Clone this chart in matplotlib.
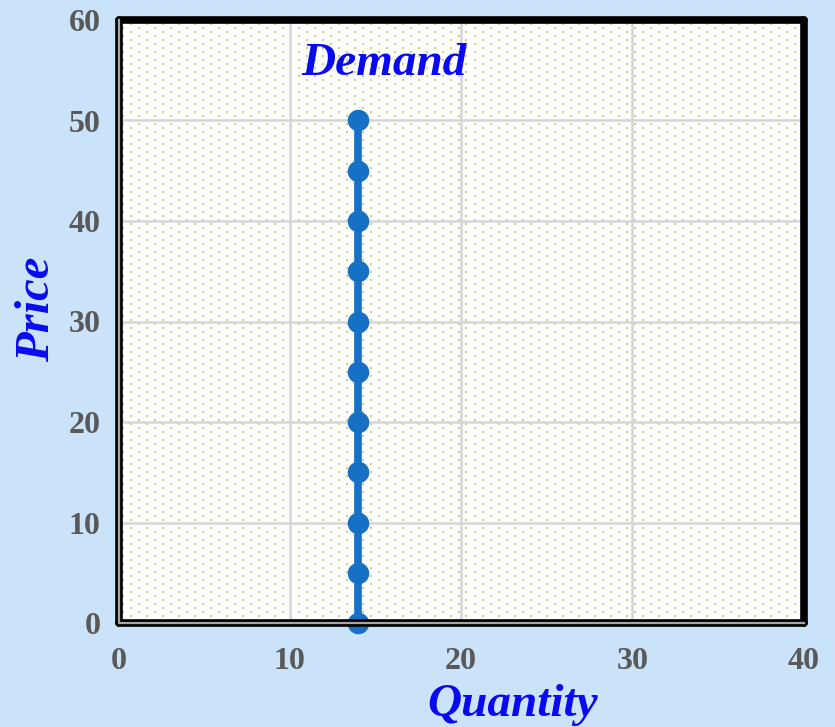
import numpy as np
import matplotlib.pyplot as plt

# demand schedule: fixed quantity at every price
prices = [0, 5, 10, 15, 20, 25, 30, 35, 40, 45, 50]
quantity = [14] * len(prices)

x_ticks = [0, 10, 20, 30, 40]
y_ticks = [0, 10, 20, 30, 40, 50, 60]

bg = '#cbe3f9'
blue_line = '#1670c4'
label_blue = '#0a0af0'
tick_gray = '#595959'
serif = 'Liberation Serif'

W, H = 835, 727
fig = plt.figure(figsize=(W / 100, H / 100), dpi=100, facecolor=bg)
ax_l, ax_b, ax_w, ax_h = 118.5, 104, 685, 603
ax = fig.add_axes([ax_l / W, ax_b / H, ax_w / W, ax_h / H])
ax.set_facecolor('white')

# small dot texture on the plot area (8 px grid, every other column shifted)
tx, ty = [], []
for i, px in enumerate(np.arange(4, ax_w - 3, 8)):
    ys = np.arange(3 + 4 * (i % 2), ax_h - 3, 8)
    tx.extend([px / ax_w] * len(ys))
    ty.extend(ys / ax_h)
ax.scatter(tx, ty, s=3.2, marker='s', color='#c6d383', linewidths=0,
           transform=ax.transAxes, zorder=0)

ax.set_xlim(0, 40)
ax.set_ylim(0, 60)
ax.set_xticks(x_ticks)
ax.set_yticks(y_ticks)
ax.grid(True, color='#d6d6d6', linewidth=1.8, zorder=1)
ax.set_axisbelow(True)

ax.plot(quantity, prices, color=blue_line, linewidth=5.5, marker='o',
        markersize=14.5, clip_on=False, zorder=5)

ax.text(15.52, 54.5, 'Demand', color=label_blue, fontsize=34, fontweight='bold',
        fontstyle='italic', family=serif, ha='center', va='baseline')

for s in ax.spines.values():
    s.set_linewidth(5.5)
    s.set_color('black')
    s.set_capstyle('round')
    s.set_zorder(6)
# thin gray rule inside the left and bottom frame
ax.plot([0, 0, 1], [1, 0, 0], transform=ax.transAxes, color='#a6a6a6',
        linewidth=1.6, clip_on=False, zorder=7)

ax.tick_params(length=0, labelsize=23, labelcolor=tick_gray)
ax.tick_params(axis='x', pad=17)
ax.tick_params(axis='y', pad=13)
for lab in ax.get_xticklabels() + ax.get_yticklabels():
    lab.set_family(serif)
    lab.set_fontweight('bold')

fig.text(513 / W, 1 - 716 / H, 'Quantity', color=label_blue, fontsize=34,
         fontweight='bold', fontstyle='italic', family=serif,
         ha='center', va='baseline')
fig.text(37.5 / W, 1 - 309 / H, 'Price', color=label_blue, fontsize=35,
         fontweight='bold', fontstyle='italic', family=serif,
         ha='center', va='center', rotation=90)

fig.savefig('out.png', dpi=100, facecolor=bg)
